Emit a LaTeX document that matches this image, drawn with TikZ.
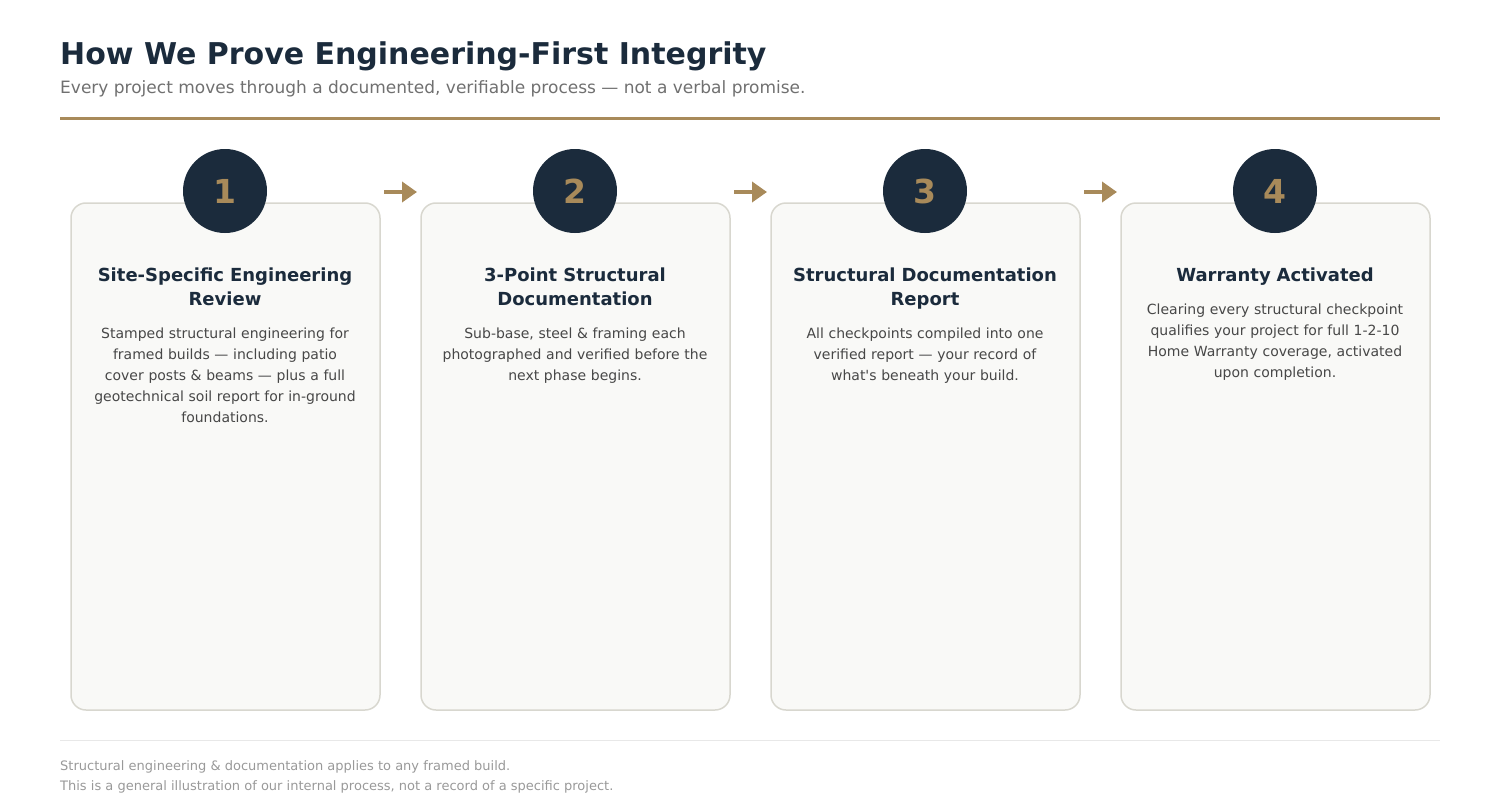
\documentclass[tikz,border=0pt]{standalone}
\usepackage{fontspec}
\setmainfont{DejaVu Sans}[Ligatures=TeXOff]
\usetikzlibrary{arrows.meta}

\definecolor{navy}{HTML}{1B2B3C}
\definecolor{gold}{HTML}{A88A5A}
\definecolor{cardfill}{HTML}{F9F9F7}
\definecolor{cardline}{HTML}{D8D7CF}
\definecolor{bodygray}{HTML}{474747}
\definecolor{subgray}{HTML}{707070}
\definecolor{footgray}{HTML}{999999}
\definecolor{footline}{HTML}{E8E8E8}

\tikzset{
  card/.style={draw=cardline, line width=1.5pt, fill=cardfill, rounded corners=15pt},
  badge/.style={circle, fill=navy, minimum size=84pt, inner sep=0pt,
    text=gold, font=\fontsize{33}{33}\selectfont\bfseries},
  cardtitle/.style={anchor=north, inner sep=0pt, text width=290pt, align=center,
    text=navy, font=\fontsize{18}{24}\selectfont\bfseries},
  cardbody/.style={anchor=north, inner sep=0pt, text width=290pt, align=center,
    text=bodygray, font=\fontsize{14}{21}\selectfont},
  footnote/.style={anchor=base west, inner sep=0pt, text=footgray, font=\fontsize{13}{13}\selectfont},
  flow/.style={draw=gold, line width=4pt, -{Triangle[length=15pt,width=20pt]}},
}

\begin{document}
\begin{tikzpicture}[x=1pt,y=-1pt]
\useasboundingbox (0,0) rectangle (1500,808); % page size
% heading
\node[anchor=base west, inner sep=0pt, text=navy, font=\fontsize{30}{30}\selectfont\bfseries]
  (head) at (60,65) {How We Prove Engineering-First Integrity};
\node[anchor=base west, inner sep=0pt, text=subgray, font=\fontsize{17}{17}\selectfont]
  (subhead) at (60,94) {Every project moves through a documented, verifiable process — not a verbal promise.};
\draw[gold, line width=3pt] (60,118) -- (1440,118);
% cards
\draw[card] (71,203) rectangle (380,710);
\draw[card] (421,203) rectangle (730,710);
\draw[card] (771,203) rectangle (1080,710);
\draw[card] (1121,203) rectangle (1430,710);
% badges
\node[badge] (b1) at (225,191) {1};
\node[badge] (b2) at (575,191) {2};
\node[badge] (b3) at (925,191) {3};
\node[badge] (b4) at (1275,191) {4};
% arrows
\coordinate (a1) at (384,192); \coordinate (a2) at (417,192);
\coordinate (a3) at (734,192); \coordinate (a4) at (767,192);
\coordinate (a5) at (1084,192); \coordinate (a6) at (1117,192);
\draw[flow] (a1) -- (a2);
\draw[flow] (a3) -- (a4);
\draw[flow] (a5) -- (a6);
% step texts
\node[cardtitle] (t1) at (225,268) {Site-Specific Engineering\\Review};
\node[cardbody] (d1) at (225,328) {Stamped structural engineering for\\framed builds — including patio\\cover posts \& beams — plus a full\\geotechnical soil report for in-ground\\foundations.};
\node[cardtitle] (t2) at (575,268) {3-Point Structural\\Documentation};
\node[cardbody] (d2) at (575,328) {Sub-base, steel \& framing each\\photographed and verified before the\\next phase begins.};
\node[cardtitle] (t3) at (925,268) {Structural Documentation\\Report};
\node[cardbody] (d3) at (925,328) {All checkpoints compiled into one\\verified report — your record of\\what's beneath your build.};
\node[cardtitle] (t4) at (1275,268) {Warranty Activated};
\node[cardbody] (d4) at (1275,304) {Clearing every structural checkpoint\\qualifies your project for full 1-2-10\\Home Warranty coverage, activated\\upon completion.};
% footer
\draw[footline, line width=1pt] (60,740) -- (1440,740);
\node[footnote] (foot1) at (60,770.5) {Structural engineering \& documentation applies to any framed build.};
\node[footnote] (foot2) at (60,790.5) {This is a general illustration of our internal process, not a record of a specific project.};
\end{tikzpicture}
\end{document}
